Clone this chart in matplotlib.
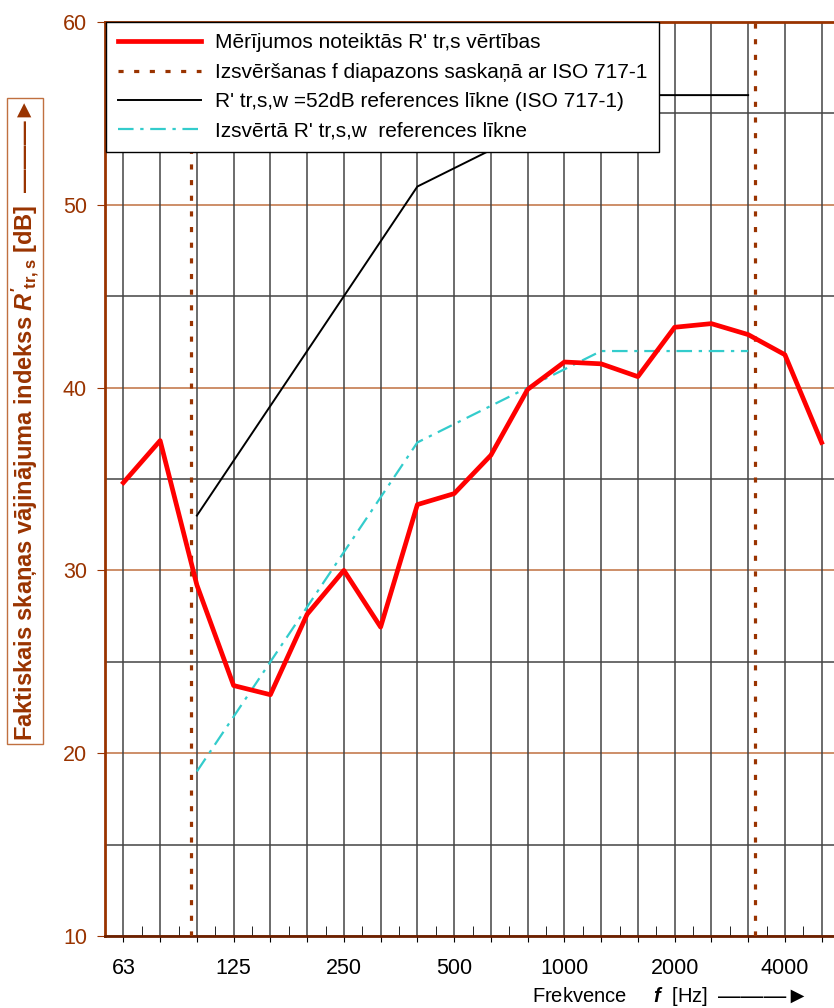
import numpy as np
import matplotlib.pyplot as plt

# 1/3 octave bands 63 .. 5000 Hz
freqs = ["63", "80", "100", "125", "160", "200", "250", "315", "400", "500",
         "630", "800", "1000", "1250", "1600", "2000", "2500", "3150", "4000", "5000"]
shown_labels = ["63", "125", "250", "500", "1000", "2000", "4000"]

# measured R'tr,s values
measured = [34.8, 37.1, 29.2, 23.7, 23.2, 27.6, 30.0, 26.9, 33.6, 34.2,
            36.3, 39.9, 41.4, 41.3, 40.6, 43.3, 43.5, 42.9, 41.8, 37.0]

# reference curve ISO 717-1 (100 .. 3150 Hz), Rw = 52 dB
ref_freqs = ["100", "125", "160", "200", "250", "315", "400", "500",
             "630", "800", "1000", "1250", "1600", "2000", "2500", "3150"]
ref_52 = [33, 36, 39, 42, 45, 48, 51, 52, 53, 54, 55, 56, 56, 56, 56, 56]
# shifted reference curve
ref_shifted = [19, 22, 25, 28, 31, 34, 37, 38, 39, 40, 41, 42, 42, 42, 42, 42]

# evaluation range limits (band index position as drawn)
range_limits = [1.83, 17.18]

brown = "#993300"
major_grid = "#C07040"

plt.rcParams['font.family'] = ['Liberation Sans', 'DejaVu Sans']
plt.rcParams['mathtext.fontset'] = 'custom'
plt.rcParams['mathtext.rm'] = 'Liberation Sans'
plt.rcParams['mathtext.bf'] = 'Liberation Sans:bold'
plt.rcParams['mathtext.it'] = 'Liberation Sans:italic'
plt.rcParams['mathtext.bfit'] = 'Liberation Sans:bold:italic'

fig = plt.figure(figsize=(8.34, 10.08), dpi=100)
ax = fig.add_axes([105/834, 1 - 936/1008, 735/834, 914/1008])

x = np.arange(len(freqs))
idx = {f: i for i, f in enumerate(freqs)}
xr = [idx[f] for f in ref_freqs]

# grid
for yv in range(10, 61, 5):
    c = major_grid if yv % 10 == 0 else "#444444"
    ax.axhline(yv, color=c, lw=1.1, zorder=1)
for xv in x:
    ax.axvline(xv, color="#444444", lw=1.1, zorder=1)

l1, = ax.plot(x, measured, color="red", lw=3.4, zorder=4,
              label="Mērījumos noteiktās R' tr,s vērtības")
l2 = None
for xl in range_limits:
    l2, = ax.plot([xl, xl], [10, 60], color=brown, lw=2.3,
                  linestyle=(0, (1.6, 3.3)), zorder=3,
                  label="Izsvēršanas f diapazons saskaņā ar ISO 717-1")
l3, = ax.plot(xr, ref_52, color="black", lw=1.4, zorder=3,
              label="R' tr,s,w =52dB references līkne (ISO 717-1)")
l4, = ax.plot(xr, ref_shifted, color="#33CCCC", lw=1.6, zorder=3,
              linestyle=(0, (7, 3, 1.5, 3)),
              label="Izsvērtā R' tr,s,w  references līkne")

ax.set_xlim(-0.5, 19.5)
ax.set_ylim(10, 60)

ax.set_xticks(x)
ax.set_xticklabels([f if f in shown_labels else "" for f in freqs], fontsize=15.5)
ax.set_xticks(np.arange(-0.5, 20, 1), minor=True)
ax.tick_params(axis='x', which='major', direction='out', length=4, color="black", pad=12)
ax.tick_params(axis='x', which='minor', direction='in', length=7, color="black")

ax.set_yticks(range(10, 61, 10))
ax.tick_params(axis='y', which='major', direction='out', length=6, color=brown,
               labelcolor=brown, labelsize=15.5, pad=7)

for s in ["left", "top", "bottom"]:
    ax.spines[s].set_color(brown)
    ax.spines[s].set_linewidth(2)
ax.spines["bottom"].set_color("#6B2000")
ax.spines["right"].set_visible(False)

leg = ax.legend(handles=[l1, l2, l3, l4], loc="upper left",
                bbox_to_anchor=(0.002, 1.0), fontsize=15, frameon=True,
                fancybox=False, edgecolor="black", framealpha=1,
                handlelength=4.0, labelspacing=0.5, borderpad=0.55,
                handletextpad=0.65, borderaxespad=0)
leg.get_frame().set_linewidth(1)
leg.set_zorder(10)

# y axis label in a box
fig.text(25/834, 1 - 421/1008,
         r"Faktiskais skaņas vājinājuma indekss $\mathbfit{R'}_{\mathbf{tr,s}}$ [dB]  ———►",
         rotation=90, ha="center", va="center", color=brown, fontsize=17,
         fontweight="bold",
         bbox=dict(boxstyle="square,pad=0.12", facecolor="white", edgecolor="#C07040", lw=1))

# x axis label
fig.text(708/834, 1 - 996/1008, r"Frekvence     $\mathbfit{f}$  [Hz]",
         ha="right", va="center", fontsize=14.5)
fig.text(718/834, 1 - 996/1008, "———►", ha="left", va="center", fontsize=16.4)

fig.savefig("out.png", dpi=100)
